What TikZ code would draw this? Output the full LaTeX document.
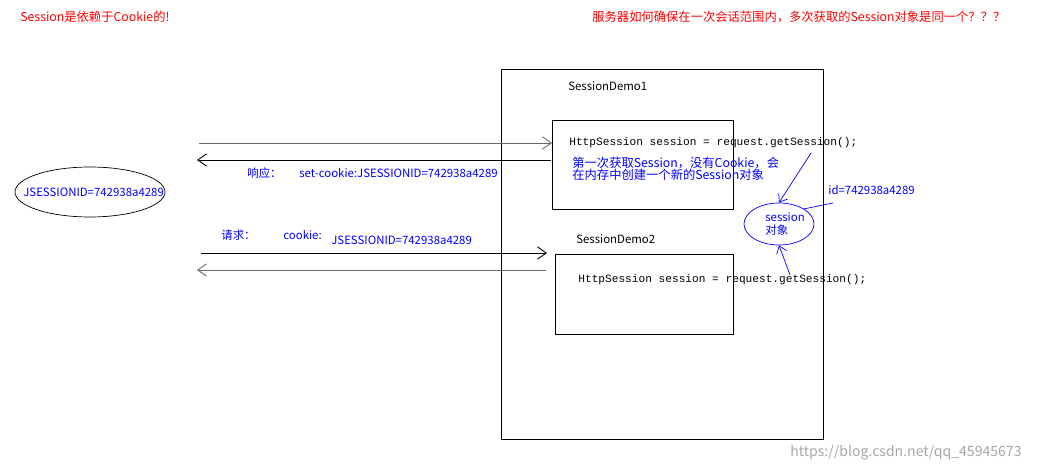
\documentclass[tikz,border=0pt]{standalone}
\usepackage{fontspec}
\setmainfont{Noto Sans CJK SC}
\setmonofont{Liberation Mono}
\usetikzlibrary{arrows.meta,shapes.geometric}
\begin{document}
\begin{tikzpicture}[x=0.02cm,y=-0.02cm,
  every node/.style={inner sep=0pt,anchor=west,font=\fontsize{6.5}{8}\selectfont},
  red/.style={text=red,font=\fontsize{7}{8}\selectfont},
  blu/.style={text=blue},
  code/.style={font=\fontsize{6.35}{8}\ttfamily},
  msg/.style={draw=black!60,line width=0.5pt,-{Straight Barb[length=5pt,width=7pt]}},
  barrow/.style={draw=blue,-{Straight Barb[length=4pt,width=6pt]}}]
\useasboundingbox (0,0) rectangle (1040,472);
\node[red] (t1) at (20,17) {Session是依赖于Cookie的!};
\node[red] (t2) at (592,17) {服务器如何确保在一次会话范围内，多次获取的Session对象是同一个？？？};
\node[draw,minimum width=322*0.02cm,minimum height=370*0.02cm,anchor=north west] (big) at (501,69) {};
\node (d1) at (568,86) {SessionDemo1};
\node[draw,minimum width=181*0.02cm,minimum height=89*0.02cm,anchor=north west] (b1) at (552,120) {};
\node[code] (c1) at (569,143) {HttpSession session = request.getSession();};
\node[blu,align=left,font=\fontsize{7}{7}\selectfont] (n1) at (572,169) {第一次获取Session，没有Cookie，会\\在内存中创建一个新的Session对象};
\node (d2) at (576,239) {SessionDemo2};
\node[draw,minimum width=178*0.02cm,minimum height=80*0.02cm,anchor=north west] (b2) at (555,254) {};
\node[code] (c2) at (578,280) {HttpSession session = request.getSession();};
\coordinate (a1s) at (199,143); \coordinate (a1e) at (552,143);
\coordinate (a2s) at (551,160); \coordinate (a2e) at (197,160);
\coordinate (a3s) at (201,253); \coordinate (a3e) at (547,253);
\coordinate (a4s) at (546,270); \coordinate (a4e) at (197,270);
\draw[msg] (a1s) -- (a1e);
\draw[msg,draw=black] (a2s) -- (a2e);
\draw[msg,draw=black] (a3s) -- (a3e);
\draw[msg] (a4s) -- (a4e);
\node[blu] (r1) at (247,173) {响应：};
\node[blu] (r2) at (299,173) {set-cookie:JSESSIONID=742938a4289};
\node[draw,ellipse,minimum width=150*0.02cm,minimum height=50*0.02cm,anchor=center] (e1) at (90,192) {};
\node[blu] (et) at (23,192) {JSESSIONID=742938a4289};
\node[blu] (q1) at (221,235) {请求：};
\node[blu] (q2) at (283,235) {cookie:};
\node[blu] (q3) at (331,240) {JSESSIONID=742938a4289};
\node[draw=blue,ellipse,minimum width=70*0.02cm,minimum height=42*0.02cm,anchor=center] (se) at (779,224) {};
\node[blu,align=left,font=\fontsize{6.5}{7}\selectfont] (st) at (765,224) {session\\对象};
\node[blu] (id) at (828,190) {id=742938a4289};
\coordinate (p1) at (811,153); \coordinate (p2) at (790,275); \coordinate (p3) at (833,203);
\draw[barrow] (p1) -- (se.north);
\draw[barrow] (p2) -- (se.south);
\draw[blue] (p3) -- (se.north east);
\node[text=black!35,font=\fontsize{8}{9}\selectfont] (wm) at (790,453) {https://blog.csdn.net/qq\_45945673};
\end{tikzpicture}
\end{document}
